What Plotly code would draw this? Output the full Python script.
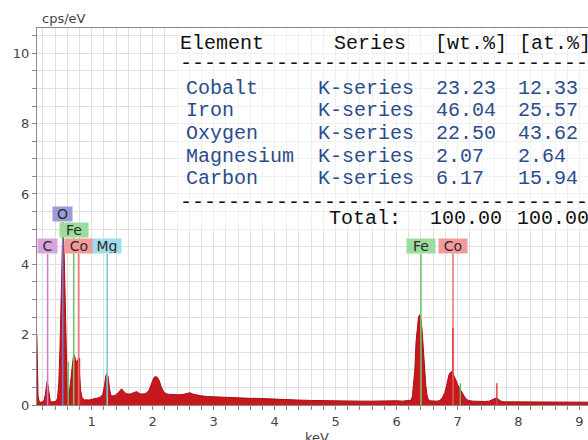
import plotly.graph_objects as go

# ---------------- data ----------------
energy_kev = [0.10, 0.11, 0.12, 0.14, 0.16, 0.18, 0.20, 0.22, 0.24, 0.26, 0.27, 0.28, 0.30, 0.32,
              0.34, 0.36, 0.38, 0.40, 0.42, 0.44, 0.46, 0.48, 0.50, 0.52, 0.53, 0.54, 0.55, 0.56,
              0.57, 0.58, 0.59, 0.60, 0.61, 0.62, 0.64, 0.66, 0.68, 0.70, 0.71, 0.72, 0.74, 0.76,
              0.78, 0.79, 0.80, 0.82, 0.84, 0.86, 0.88, 0.90, 0.95, 1.00, 1.05, 1.10, 1.14, 1.18,
              1.21, 1.23, 1.25, 1.27, 1.29, 1.31, 1.34, 1.38, 1.42, 1.46, 1.49, 1.52, 1.56, 1.60,
              1.65, 1.70, 1.74, 1.78, 1.82, 1.86, 1.90, 1.94, 1.98, 2.02, 2.05, 2.08, 2.11, 2.14,
              2.18, 2.22, 2.28, 2.35, 2.42, 2.50, 2.56, 2.61, 2.66, 2.72, 2.80, 2.90, 3.00, 3.10,
              3.20, 3.30, 3.40, 3.50, 3.60, 3.70, 3.80, 3.90, 4.00, 4.20, 4.40, 4.60, 4.80, 5.00,
              5.20, 5.40, 5.60, 5.80, 5.90, 6.00, 6.10, 6.20, 6.24, 6.26, 6.28, 6.30, 6.32, 6.34,
              6.36, 6.38, 6.40, 6.42, 6.44, 6.46, 6.48, 6.50, 6.52, 6.55, 6.60, 6.65, 6.70, 6.73,
              6.76, 6.79, 6.82, 6.84, 6.86, 6.88, 6.90, 6.92, 6.95, 6.98, 7.00, 7.03, 7.06, 7.09,
              7.12, 7.15, 7.18, 7.25, 7.35, 7.45, 7.52, 7.57, 7.62, 7.66, 7.70, 7.75, 7.85, 8.00,
              8.20, 8.40, 8.60, 8.80, 9.00, 9.20]
cps_per_ev = [2.00, 1.20, 0.25, 0.10, 0.08, 0.09, 0.10, 0.14, 0.30, 0.58, 0.67, 0.60, 0.28, 0.12,
              0.09, 0.08, 0.09, 0.10, 0.12, 0.20, 0.60, 1.60, 3.40, 4.60, 4.77, 4.70, 4.20, 3.30,
              2.20, 1.20, 0.60, 0.32, 0.24, 0.28, 0.45, 0.80, 1.15, 1.38, 1.43, 1.40, 1.22, 1.25,
              1.30, 1.15, 0.80, 0.40, 0.22, 0.16, 0.14, 0.15, 0.14, 0.16, 0.17, 0.20, 0.22, 0.30,
              0.55, 0.82, 0.90, 0.80, 0.50, 0.30, 0.26, 0.27, 0.32, 0.42, 0.46, 0.40, 0.33, 0.31,
              0.32, 0.36, 0.38, 0.33, 0.31, 0.32, 0.34, 0.42, 0.62, 0.78, 0.81, 0.78, 0.68, 0.52,
              0.38, 0.32, 0.30, 0.29, 0.29, 0.30, 0.32, 0.35, 0.31, 0.28, 0.26, 0.24, 0.23, 0.22,
              0.22, 0.21, 0.20, 0.20, 0.19, 0.19, 0.18, 0.17, 0.16, 0.15, 0.14, 0.13, 0.12, 0.11,
              0.11, 0.11, 0.11, 0.12, 0.13, 0.12, 0.11, 0.12, 0.14, 0.25, 0.55, 1.00, 1.80, 2.30,
              2.50, 2.57, 2.45, 2.10, 1.55, 1.00, 0.55, 0.28, 0.16, 0.12, 0.11, 0.11, 0.12, 0.16,
              0.24, 0.35, 0.55, 0.75, 0.86, 0.92, 0.95, 0.92, 0.82, 0.68, 0.58, 0.48, 0.42, 0.32,
              0.22, 0.16, 0.13, 0.11, 0.10, 0.10, 0.11, 0.14, 0.19, 0.18, 0.12, 0.09, 0.09, 0.08,
              0.08, 0.08, 0.08, 0.08, 0.08, 0.08]

# labelled element lines: symbol, energy, label row
label_symbols = ["C", "O", "Fe", "Co", "Mg", "Fe", "Co"]
label_energies = [0.277, 0.525, 0.705, 0.785, 1.254, 6.40, 6.925]
label_rows = [1, 3, 2, 1, 1, 1, 1]

# secondary line markers: energy, height, element
marker_energies = [0.615, 0.80, 6.925, 7.045, 7.645]
marker_heights = [1.24, 1.34, 2.19, 0.62, 0.62]
marker_elements = ["Fe", "Co", "Co", "Fe", "Co"]

# quantification table
table_elements = ["Cobalt", "Iron", "Oxygen", "Magnesium", "Carbon"]
table_series = ["K-series"] * 5
table_wt = ["23.23", "46.04", "22.50", "2.07", "6.17"]
table_at = ["12.33", "25.57", "43.62", "2.64", "15.94"]
table_header = ["Element", "Series", "[wt.%]", "[at.%]"]
table_total = ["Total:", "100.00", "100.00"]

x_ticks = [1, 2, 3, 4, 5, 6, 7, 8, 9]
y_ticks = [0, 2, 4, 6, 8, 10]

# ---------------- style ----------------
line_col = {"C": "#cc80cc", "O": "#7878c8", "Fe": "#72c472", "Co": "#f07878", "Mg": "#78cce0"}
box_col = {"C": "#d8a4dc", "O": "#9c9cdc", "Fe": "#9cdc9c", "Co": "#f49a9a", "Mg": "#a2dcea"}
row_center = {1: 4.52, 2: 4.98, 3: 5.42}
row_bottom = {1: 4.30, 2: 4.76, 3: 5.20}

W, H = 588, 440
ML, MR, MT, MB = 37, 0, 28, 35
PW, PH = W - ML - MR, H - MT - MB


def px2x(px):
    return (px - ML) / PW


def px2y(py):
    return (H - MB - py) / PH


fig = go.Figure()
fig.add_trace(go.Scatter(x=energy_kev, y=cps_per_ev, mode="lines", fill="tozeroy",
                         line=dict(color="#a80f14", width=1), fillcolor="#c8171d",
                         hoverinfo="skip", showlegend=False))

# labelled element lines
for s, e, r in zip(label_symbols, label_energies, label_rows):
    fig.add_trace(go.Scatter(x=[e, e], y=[0, row_bottom[r]], mode="lines",
                             line=dict(color=line_col[s], width=1.6),
                             hoverinfo="skip", showlegend=False))
# secondary markers
for e, h, s in zip(marker_energies, marker_heights, marker_elements):
    c = "#e03a3a" if s == "Co" else "#60c060"
    fig.add_trace(go.Scatter(x=[e, e], y=[0, h], mode="lines",
                             line=dict(color=c, width=1.4),
                             hoverinfo="skip", showlegend=False))

annotations = []
for s, e, r in zip(label_symbols, label_energies, label_rows):
    annotations.append(dict(x=e, y=row_center[r], xref="x", yref="y", text=s, showarrow=False,
                            xanchor="center", yanchor="middle", bgcolor=box_col[s],
                            width=10 + 9 * len(s), height=14, borderpad=0,
                            font=dict(family="DejaVu Sans", size=14, color="#2a2a2a")))

mono = "Liberation Mono"
hdr_font = dict(family=mono, size=20, color="#111111")
row_font = dict(family=mono, size=20, color="#2c4c8c")

hdr_x = [178, 332, 433, 517]
for t, xp in zip(table_header, hdr_x):
    annotations.append(dict(x=px2x(xp), y=px2y(43), xref="paper", yref="paper", text=t,
                            showarrow=False, xanchor="left", yanchor="middle", font=hdr_font))
dash_text = "-" * 36
for yp in (63, 202):
    annotations.append(dict(x=px2x(178), y=px2y(yp), xref="paper", yref="paper", text=dash_text,
                            showarrow=False, xanchor="left", yanchor="middle", font=hdr_font))
row_y = [88, 110.7, 133.3, 156, 178.6]
col_x = [184, 316, 434, 516]
for i in range(len(table_elements)):
    for t, xp in zip([table_elements[i], table_series[i], table_wt[i], table_at[i]], col_x):
        annotations.append(dict(x=px2x(xp), y=px2y(row_y[i]), xref="paper", yref="paper", text=t,
                                showarrow=False, xanchor="left", yanchor="middle", font=row_font))
for t, xp in zip(table_total, [327, 428, 515]):
    annotations.append(dict(x=px2x(xp), y=px2y(218), xref="paper", yref="paper", text=t,
                            showarrow=False, xanchor="left", yanchor="middle", font=hdr_font))

annotations.append(dict(x=px2x(40), y=px2y(19), xref="paper", yref="paper", text="cps/eV",
                        showarrow=False, xanchor="left", yanchor="middle",
                        font=dict(family="DejaVu Sans", size=13, color="#444444")))
annotations.append(dict(x=px2x(317), y=px2y(438), xref="paper", yref="paper", text="keV",
                        showarrow=False, xanchor="center", yanchor="middle",
                        font=dict(family="DejaVu Sans", size=13, color="#444444")))

grid_c = "#e0e0e0"
fig.update_layout(
    width=W, height=H, margin=dict(l=ML, r=MR, t=MT, b=MB, autoexpand=False),
    paper_bgcolor="white", plot_bgcolor="white",
    annotations=annotations,
    shapes=[dict(type="rect", xref="paper", yref="paper", x0=px2x(175), x1=1.0,
                 y0=px2y(230), y1=1.0, fillcolor="rgba(255,255,255,0.5)",
                 line=dict(width=0), layer="above")],
    xaxis=dict(range=[0.103, 9.14], tickmode="array", tickvals=x_ticks,
               ticktext=[str(v) for v in x_ticks], automargin=False,
               showgrid=True, gridcolor=grid_c, gridwidth=1, zeroline=False,
               showline=True, linecolor="#8a8a8a", linewidth=1.2, mirror=True,
               ticks="outside", ticklen=4, tickcolor="#8a8a8a",
               minor=dict(tick0=0, dtick=0.2, ticks="outside", ticklen=4, tickcolor="#8a8a8a",
                          showgrid=True, gridcolor=grid_c),
               tickfont=dict(family="DejaVu Sans", size=13, color="#444444")),
    yaxis=dict(range=[0, 10.72], tickmode="array", tickvals=y_ticks,
               ticktext=[str(v) for v in y_ticks], automargin=False,
               showgrid=True, gridcolor=grid_c, gridwidth=1, zeroline=False,
               showline=True, linecolor="#8a8a8a", linewidth=1.2,
               ticks="outside", ticklen=4, tickcolor="#8a8a8a",
               minor=dict(tick0=0, dtick=0.5, ticks="outside", ticklen=4, tickcolor="#8a8a8a",
                          showgrid=True, gridcolor=grid_c),
               tickfont=dict(family="DejaVu Sans", size=13, color="#444444")),
)

fig.write_html("out.html", config={"displayModeBar": False},
               post_script="document.body.style.margin='0';document.body.style.overflow='hidden';")
